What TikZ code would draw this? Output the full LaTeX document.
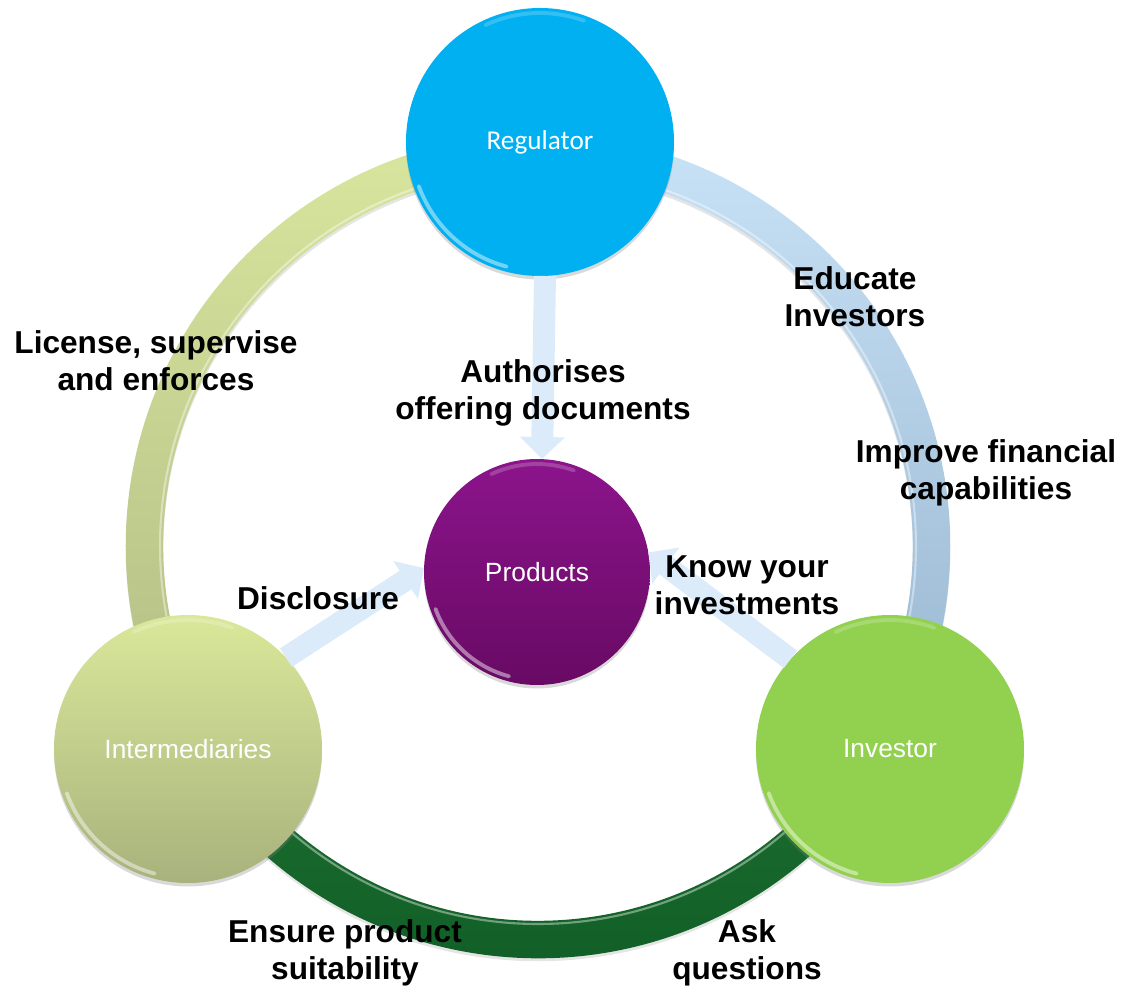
\documentclass[tikz,border=0pt]{standalone}
\usepackage{fontspec}
\setmainfont{Liberation Sans}
\newfontfamily\calibri{Carlito}
\usetikzlibrary{positioning,calc,arrows.meta,shadows}
\definecolor{regblue}{RGB}{0,176,240}
\definecolor{prodtop}{RGB}{140,20,140}
\definecolor{prodbot}{RGB}{104,10,100}
\definecolor{inttop}{RGB}{218,232,154}
\definecolor{intbot}{RGB}{168,178,124}
\definecolor{invgreen}{RGB}{146,208,80}
\definecolor{flowblue}{RGB}{220,235,250}
\definecolor{yeltop}{RGB}{216,230,158}
\definecolor{yelbot}{RGB}{178,188,132}
\definecolor{bluetop}{RGB}{200,226,246}
\definecolor{bluebot}{RGB}{152,182,208}
\definecolor{grntop}{RGB}{30,110,50}
\definecolor{grnbot}{RGB}{14,92,36}
\tikzset{
	hub/.style={circle, minimum size=5.36cm, inner sep=0pt, outer sep=0pt, text=white,
		font=\fontsize{15}{17}\selectfont,
		drop shadow={shadow xshift=0pt, shadow yshift=-0.07cm, opacity=0.3}},
	lbl/.style={font=\fontsize{18}{21}\selectfont\bfseries, align=center, inner sep=1pt},
	flow/.style={draw=flowblue, line width=0.44cm, -{Triangle[width=0.88cm,length=0.44cm]}},
	gloss/.style={white, line width=2.2pt, opacity=0.45, line cap=round},
}

\begin{document}
\begin{tikzpicture}
	\useasboundingbox (-10.76,-8.88) rectangle (11.98,10.92);

	% ring
	\draw[black, opacity=0.1, line width=0.75cm] (0,-0.06) circle (7.87);
	\shade[top color=yeltop, bottom color=yelbot] (90:8.245) arc (90:210:8.245) -- (210:7.495) arc (210:90:7.495) -- cycle;
	\shade[top color=bluetop, bottom color=bluebot] (90:8.245) arc (90:-30:8.245) -- (-30:7.495) arc (-30:90:7.495) -- cycle;
	\shade[top color=grntop, bottom color=grnbot] (210:8.245) arc (210:330:8.245) -- (330:7.495) arc (330:210:7.495) -- cycle;
	\draw[white, opacity=0.4, line width=1.2pt] (0,0) circle (7.56);

	\begin{scope}
		\node[hub, fill=regblue, font=\calibri\fontsize{15.5}{18}\selectfont] (reg) at (0.04, 8.08) {Regulator};
		\node[hub, top color=inttop, bottom color=intbot] (int) at (-7.0, -4.06) {Intermediaries};
		\node[hub, fill=invgreen] (inv) at (7.04, -4.06) {Investor};
		\node[hub, minimum size=4.52cm, top color=prodtop, bottom color=prodbot] (prod) at (-0.02, -0.52) {Products};

		\foreach \n/\r in {reg/2.58, int/2.58, inv/2.58, prod/2.16} {
			\draw[gloss] ($(\n.center)+(200:\r)$) arc (200:255:\r);
			\draw[gloss, opacity=0.2] ($(\n.center)+(70:\r)$) arc (70:115:\r);
		}

		\draw[flow] ($(reg.south)+(0.1,0)$) -- ($(prod.north)+(0.1,0)$);
		\draw[flow] (int.43) -- (prod.178);
		\draw[flow] (inv.138) -- (prod.10);
	\end{scope}

	\node[lbl] (license) at (-7.64, 3.70) {License, supervise\\and enforces};
	\node[lbl] (educate) at (6.34, 4.98) {Educate\\Investors};
	\node[lbl] (authorise) at (0.1, 3.06) {Authorises\\offering documents};
	\node[lbl] (improve) at (8.96, 1.46) {Improve financial\\capabilities};
	\node[lbl] (disclose) at (-4.4, -1.04) {Disclosure};
	\node[lbl] (know) at (4.18, -0.78) {Know your\\investments};
	\node[lbl] (ensure) at (-3.86, -8.14) {Ensure product\\suitability};
	\node[lbl] (ask) at (4.18, -8.14) {Ask\\questions};
\end{tikzpicture}
\end{document}
